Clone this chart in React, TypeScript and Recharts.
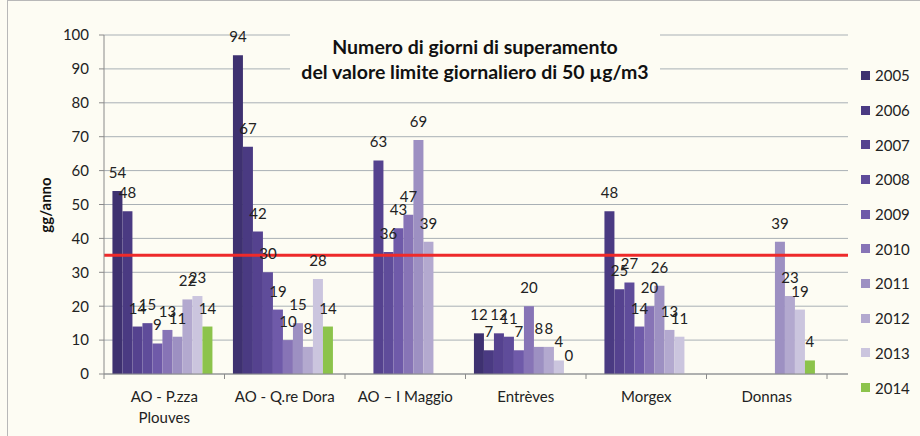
import React from 'react';
import { BarChart, Bar, XAxis, YAxis, CartesianGrid, ReferenceLine, LabelList } from 'recharts';

const categories = ['AO - P.zza\nPlouves', 'AO - Q.re Dora', 'AO – I Maggio', 'Entrèves', 'Morgex', 'Donnas'];
const years = ['2005', '2006', '2007', '2008', '2009', '2010', '2011', '2012', '2013', '2014'];

const v2005 = [54, 94, null, 12, null, null];
const v2006 = [48, 67, null, 7, 48, null];
const v2007 = [14, 42, 63, 12, 25, null];
const v2008 = [15, 30, 36, 11, 27, null];
const v2009 = [9, 19, 43, 7, 14, null];
const v2010 = [13, 10, 47, 20, 20, null];
const v2011 = [11, 15, 69, 8, 26, 39];
const v2012 = [22, 8, 39, 8, 13, 23];
const v2013 = [23, 28, null, 4, 11, 19];
const v2014 = [14, 14, null, 0, null, 4];

const yTicks = [0, 10, 20, 30, 40, 50, 60, 70, 80, 90, 100];
const limit = 35;

const series = [v2005, v2006, v2007, v2008, v2009, v2010, v2011, v2012, v2013, v2014];
const colors = ['#3e3170', '#4a3a82', '#55428f', '#5f4c9a', '#6f5aa9', '#8774b6', '#9d90c2', '#b3a9cf', '#cbc5de', '#8cc34b'];

const data = categories.map((name, i) => {
  const row: Record<string, string | number | null> = { name };
  years.forEach((y, k) => {
    row['y' + y] = series[k][i];
  });
  return row;
});

const font = 'Lato, "Open Sans", sans-serif';

const CatTick = (props: any) => {
  const { x, y, payload, index } = props;
  const off = payload.offset || 0;
  const lines = String(payload.value).split('\n');
  return (
    <g>
      <line x1={x - off} x2={x - off} y1={y} y2={y + 5} stroke="#8a8a8a" />
      {index === categories.length - 1 && <line x1={x + off} x2={x + off} y1={y} y2={y + 5} stroke="#8a8a8a" />}
      {lines.map((l, i) => (
        <text key={i} x={x} y={y + 28 + i * 21} textAnchor="middle" fontSize={15} fill="#222">
          {l}
        </text>
      ))}
    </g>
  );
};

// value labels, including zero-height bars
const ValueLabel = (props: any) => {
  const { x, y, width, value } = props;
  if (value === null || value === undefined) return null;
  return (
    <text x={x + width / 2} y={y - 13} textAnchor="middle" fontSize={15} fill="#222">
      {value}
    </text>
  );
};

export default function App() {
  return (
    <div
      style={{
        position: 'absolute',
        left: 0,
        top: 0,
        width: 920,
        height: 436,
        background: '#fdfcf3',
        fontFamily: font,
        overflow: 'hidden',
      }}
    >
      <div style={{ position: 'absolute', left: 7, top: 0, width: 940, height: 440, border: '1px solid #b8b8b8' }} />
      <BarChart
        width={920}
        height={436}
        data={data}
        margin={{ top: 35, right: 72, bottom: 0, left: 0 }}
        barCategoryGap="7%"
        barGap={0}
      >
        <CartesianGrid vertical={false} stroke="#a9b0b5" />
        <XAxis
          dataKey="name"
          height={62}
          tick={<CatTick />}
          tickLine={false}
          tickSize={0}
          tickMargin={0}
          interval={0}
          stroke="#8a8a8a"
          padding={{ left: 0, right: 21 }}
        />
        <YAxis
          width={104}
          domain={[0, 100]}
          ticks={yTicks}
          interval={0}
          tickSize={5}
          tickMargin={10}
          stroke="#8a8a8a"
          tick={{ fill: '#222', fontSize: 15 }}
        />
        {years.map((y, k) => (
          <Bar
            key={y}
            dataKey={'y' + y}
            name={y}
            fill={colors[k]}
            minPointSize={(v: any) => (v === 0 ? 0.01 : 0)}
            isAnimationActive={false}
          >
            <LabelList dataKey={'y' + y} content={<ValueLabel />} />
          </Bar>
        ))}
        <ReferenceLine y={limit} stroke="#ee2a2a" strokeWidth={3} />
      </BarChart>
      <div
        style={{
          position: 'absolute',
          left: 290,
          top: 30,
          width: 370,
          height: 52,
          background: '#fdfcf3',
          textAlign: 'center',
          fontWeight: 'bold',
          fontSize: 19.5,
          lineHeight: '25px',
          color: '#111',
          paddingTop: 4,
        }}
      >
        Numero di giorni di superamento
        <br />
        del valore limite giornaliero di 50 µg/m3
      </div>
      <div
        style={{
          position: 'absolute',
          left: 45,
          top: 205,
          transform: 'translate(-50%, -50%) rotate(-90deg)',
          fontWeight: 'bold',
          fontSize: 15,
          color: '#111',
          whiteSpace: 'nowrap',
        }}
      >
        gg/anno
      </div>
      <div style={{ position: 'absolute', left: 861, top: 58 }}>
        {years.map((y, k) => (
          <div key={y} style={{ display: 'flex', alignItems: 'center', height: 34.7 }}>
            <div style={{ width: 9, height: 9, background: colors[k], marginRight: 5 }} />
            <span style={{ fontSize: 15, color: '#222' }}>{y}</span>
          </div>
        ))}
      </div>
    </div>
  );
}
